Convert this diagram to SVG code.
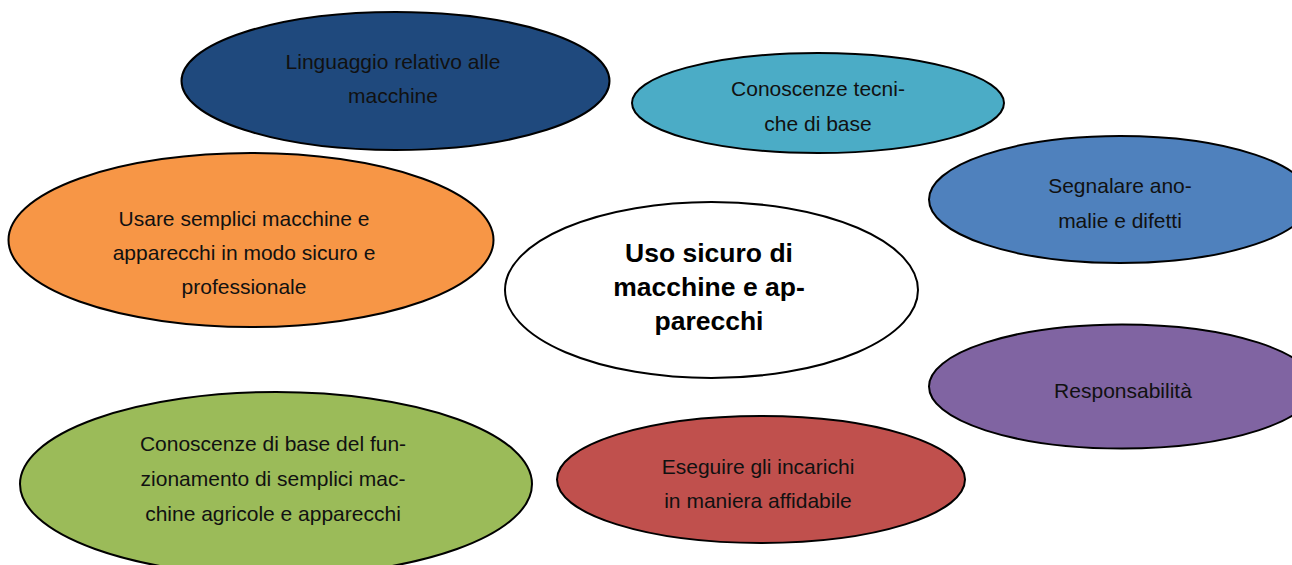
<svg xmlns="http://www.w3.org/2000/svg" width="1292" height="565" viewBox="0 0 1292 565">
<style>
.n{stroke:#000;stroke-width:2}
.t{font-family:"Liberation Sans",Arial,sans-serif;font-size:21px;fill:#111;text-anchor:middle}
.b{font-family:"Liberation Sans",Arial,sans-serif;font-size:26.5px;font-weight:bold;fill:#000;text-anchor:middle}
</style>
<rect width="1292" height="565" fill="#fff"/>
<g id="connectors"></g>
<g id="n-linguaggio">
<ellipse class="n" cx="395.5" cy="81" rx="214" ry="69" fill="#1F497D"/>
<text class="t" x="393" y="69">Linguaggio relativo alle</text>
<text class="t" x="393" y="103">macchine</text>
</g>
<g id="n-conoscenze-tecniche">
<ellipse class="n" cx="818" cy="103" rx="186" ry="50" fill="#4BACC6"/>
<text class="t" x="818" y="96">Conoscenze tecni-</text>
<text class="t" x="818" y="131">che di base</text>
</g>
<g id="n-segnalare">
<ellipse class="n" cx="1120" cy="199.5" rx="191" ry="63.5" fill="#4F81BD"/>
<text class="t" x="1120" y="193">Segnalare ano-</text>
<text class="t" x="1120" y="228">malie e difetti</text>
</g>
<g id="n-usare">
<ellipse class="n" cx="251" cy="240" rx="242.5" ry="87" fill="#F79646"/>
<text class="t" x="244" y="226">Usare semplici macchine e</text>
<text class="t" x="244" y="260">apparecchi in modo sicuro e</text>
<text class="t" x="244" y="294">professionale</text>
</g>
<g id="n-center">
<ellipse class="n" cx="711.5" cy="290" rx="206.5" ry="88" fill="#fff"/>
<text class="b" x="709" y="262">Uso sicuro di</text>
<text class="b" x="709" y="296">macchine e ap-</text>
<text class="b" x="709" y="330">parecchi</text>
</g>
<g id="n-responsabilita">
<ellipse class="n" cx="1122" cy="386.5" rx="193" ry="62" fill="#8064A2"/>
<text class="t" x="1123" y="398">Responsabilità</text>
</g>
<g id="n-conoscenze-base">
<ellipse class="n" cx="276" cy="484" rx="256" ry="92" fill="#9BBB59"/>
<text class="t" x="273" y="451">Conoscenze di base del fun-</text>
<text class="t" x="273" y="486">zionamento di semplici mac-</text>
<text class="t" x="273" y="521">chine agricole e apparecchi</text>
</g>
<g id="n-eseguire">
<ellipse class="n" cx="761" cy="479.5" rx="204" ry="63.5" fill="#C0504D"/>
<text class="t" x="758" y="474">Eseguire gli incarichi</text>
<text class="t" x="758" y="508">in maniera affidabile</text>
</g>
</svg>
